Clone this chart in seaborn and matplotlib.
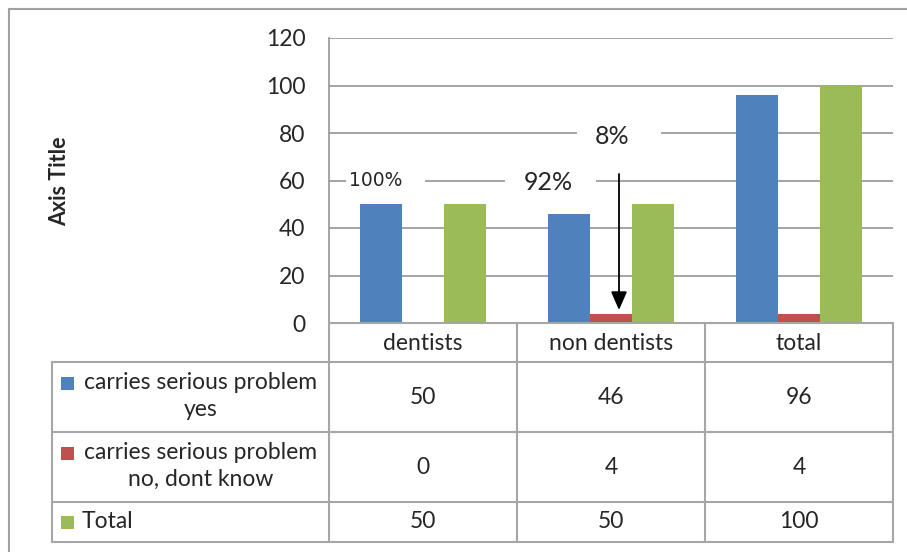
import matplotlib
matplotlib.use("Agg")
import matplotlib.pyplot as plt
from matplotlib.patches import Rectangle, FancyArrowPatch
from matplotlib.lines import Line2D
import seaborn as sns
import pandas as pd

# ---- data -------------------------------------------------------------
categories = ["dentists", "non dentists", "total"]
series_names = ["carries serious problem\nyes",
                "carries serious problem\nno, dont know",
                "Total"]
yes_values = [50, 46, 96]
no_values = [0, 4, 4]
total_values = [50, 50, 100]
y_ticks = [0, 20, 40, 60, 80, 100, 120]
colors = ["#4F81BD", "#C0504D", "#9BBB59"]

series_values = [yes_values, no_values, total_values]
df = pd.DataFrame({
    "category": [c for vals in series_values for c in categories],
    "series": [s for s, vals in zip(series_names, series_values) for _ in vals],
    "value": [v for vals in series_values for v in vals],
})

# ---- figure -----------------------------------------------------------
W, H = 907, 552
sns.set_theme(style="white")
plt.rcParams["font.family"] = ["Lato", "DejaVu Sans"]
fig = plt.figure(figsize=(W / 100, H / 100), dpi=100)
fig.patch.set_facecolor("white")

FS = 16.5


def fx(x):
    return x / W


def fy(y):
    return 1 - y / H


grid_c = "#8C8C8C"
line_c = "#A6A6A6"
txt_c = "#262626"

# plot area
x0, x1, ytop, ybot = 329, 893, 38, 323
ax = fig.add_axes([fx(x0), fy(ybot), fx(x1) - fx(x0), fy(ytop) - fy(ybot)])
sns.barplot(data=df, x="category", y="value", hue="series",
            palette=colors, width=0.67, gap=0, saturation=1,
            legend=False, ax=ax, order=categories, hue_order=series_names,
            edgecolor="none", linewidth=0)
ax.set_xlim(-0.5, 2.5)
ax.set_ylim(0, 120)
ax.set_yticks(y_ticks)
ax.set_yticklabels([str(t) for t in y_ticks], fontsize=FS, color=txt_c)
ax.tick_params(axis="y", length=0, pad=17)
ax.set_xticks([])
ax.set_xlabel("")
ax.set_ylabel("")
ax.set_axisbelow(True)
ax.yaxis.grid(True, color=grid_c, linewidth=1.1)
for side in ["top", "right"]:
    ax.spines[side].set_visible(False)
for side in ["left", "bottom"]:
    ax.spines[side].set_color(grid_c)
    ax.spines[side].set_linewidth(1.1)

# axis title
fig.text(fx(60), fy(181), "Axis Title", rotation=90, ha="center", va="center",
         fontsize=15.5, fontweight="bold", color=txt_c)

# outer chart frame
fig.add_artist(Line2D([fx(9), 1], [fy(9), fy(9)], color="#A0A0A0", lw=1.5))
fig.add_artist(Line2D([fx(9), fx(9)], [0, fy(9)], color="#A0A0A0", lw=1.5))

# ---- data table below the plot -----------------------------------------
col_edges = [329, 517, 705, 893]
row_edges = [323, 362, 432, 502, 542]
tl = dict(color=line_c, lw=1.5)
for x in col_edges:
    fig.add_artist(Line2D([fx(x), fx(x)], [fy(323), fy(542)], **tl))
fig.add_artist(Line2D([fx(52), fx(52)], [fy(362), fy(542)], **tl))
fig.add_artist(Line2D([fx(329), fx(893)], [fy(323), fy(323)], **tl))
for y in row_edges[1:]:
    fig.add_artist(Line2D([fx(52), fx(893)], [fy(y), fy(y)], **tl))

col_centers = [(a + b) / 2 for a, b in zip(col_edges[:-1], col_edges[1:])]
row_centers = [(a + b) / 2 for a, b in zip(row_edges[:-1], row_edges[1:])]

for cx, cat in zip(col_centers, categories):
    fig.text(fx(cx), fy(row_centers[0] + 1), cat, ha="center", va="center",
             fontsize=FS, color=txt_c)

for i, (name, vals, col) in enumerate(zip(series_names, series_values, colors)):
    cy = row_centers[i + 1]
    two_lines = "\n" in name
    key_top = cy - 20 if two_lines else cy - 6
    fig.add_artist(Rectangle((fx(61), fy(key_top + 13)), 13 / W, 13 / H,
                             transform=fig.transFigure,
                             facecolor=col, edgecolor="none"))
    if two_lines:
        fig.text(fx(201), fy(cy - 1), name, ha="center", va="center",
                 fontsize=FS, color=txt_c, linespacing=1.3)
    else:
        fig.text(fx(82), fy(cy), name, ha="left", va="center",
                 fontsize=FS, color=txt_c)
    for cx, v in zip(col_centers, vals):
        fig.text(fx(cx), fy(cy), str(v), ha="center", va="center",
                 fontsize=FS, color=txt_c)

# ---- annotations --------------------------------------------------------
def white_box(xa, xb, ya, yb):
    fig.add_artist(Rectangle((fx(xa), fy(yb)), (xb - xa) / W, (yb - ya) / H,
                             transform=fig.transFigure, facecolor="white",
                             edgecolor="none", zorder=2))


white_box(346, 425, 166, 194)
white_box(505, 596, 166, 196)
white_box(577, 661, 118, 150)

fig.text(fx(376), fy(180), "100%", ha="center", va="center", fontsize=13.5,
         color=txt_c, family=["Liberation Sans Narrow", "DejaVu Sans"], zorder=3)
fig.text(fx(548), fy(183), "92%", ha="center", va="center", fontsize=18,
         color=txt_c, zorder=3)
fig.text(fx(612), fy(136), "8%", ha="center", va="center", fontsize=18,
         color=txt_c, zorder=3)

fig.add_artist(FancyArrowPatch((fx(619), fy(174)), (fx(619), fy(310)),
                               transform=fig.transFigure,
                               arrowstyle="-|>,head_length=0.8,head_width=0.35",
                               mutation_scale=14, color="black", lw=1.3,
                               shrinkA=0, shrinkB=0, zorder=3))

fig.savefig("out.png", dpi=100, facecolor="white")
